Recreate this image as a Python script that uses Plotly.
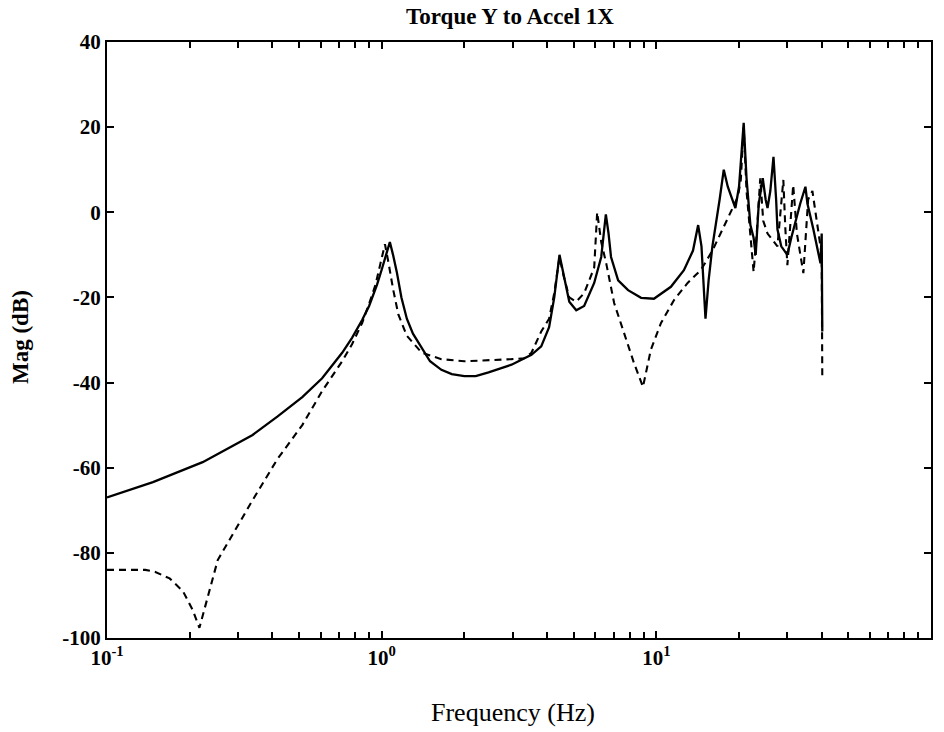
import plotly.graph_objects as go

# Solid curve (frequency Hz, magnitude dB)
solid_f = [0.1, 0.147, 0.223, 0.339, 0.417, 0.514, 0.607, 0.661, 0.718, 0.78, 0.849, 0.90,
           0.962, 1.0, 1.04, 1.071, 1.10, 1.135, 1.18, 1.235, 1.30, 1.40, 1.50, 1.65, 1.80,
           2.0, 2.2, 2.45, 2.97, 3.51, 3.81, 4.07, 4.25, 4.44, 4.63, 4.82, 5.11, 5.46, 5.94,
           6.30, 6.46, 6.55, 6.7, 6.84, 7.26, 7.89, 8.8, 9.8, 11.3, 12.6, 13.6, 14.2, 14.6,
           15.1, 15.5, 16.0, 17.0, 17.6, 18.2, 19.4, 20.0, 20.8, 21.3, 22.0, 22.6, 23.0, 23.6,
           24.4, 25.0, 25.4, 26.0, 26.7, 27.3, 27.6, 28.5, 30.0, 31.0, 33.4, 34.9, 35.5, 37.3,
           39.0, 39.6, 40.0, 40.2]
solid_db = [-67, -63.4, -58.7, -52.3, -48, -43.4, -39, -36, -33, -29.5, -25.3, -22,
            -17, -13.5, -10, -7, -10, -14, -20, -25, -28.5, -32, -35, -37, -38,
            -38.5, -38.5, -37.6, -35.8, -33.5, -31.5, -27, -20, -10, -16, -21, -23, -22, -16.6,
            -10.5, -4, -0.5, -5, -10.5, -16, -18.3, -20.1, -20.3, -17.5, -13.6, -9, -3, -8,
            -25, -16, -8, 3, 10, 6, 1, 6, 21, 8, -3, -6, -10, 2,
            8, 3, 1, 5, 13, 3, -4, -8, -10, -6, 2, 6, 2, -4,
            -10, -12, -5, -28]

# Dashed curve (frequency Hz, magnitude dB)
dash_f = [0.1, 0.124, 0.138, 0.15, 0.169, 0.189, 0.205, 0.217, 0.236, 0.253, 0.286, 0.339,
          0.417, 0.514, 0.607, 0.661, 0.718, 0.78, 0.849, 0.90, 0.95, 0.99, 1.028, 1.06, 1.10,
          1.15, 1.235, 1.40, 1.65, 2.0, 2.45, 2.97, 3.3, 3.51, 3.81, 4.07, 4.25, 4.44, 4.6,
          4.82, 5.11, 5.46, 5.94, 6.09, 6.3, 6.57, 7.02, 7.63, 8.29, 8.94, 9.55, 10.4, 11.6,
          13.0, 14.5, 14.9, 16.0, 17.6, 19.8, 20.3, 20.8, 21.3, 22.6, 23.2, 23.9, 24.5, 25.4,
          27.6, 28.5, 29.0, 29.5, 30.0, 31.5, 32.5, 34.3, 35.7, 37.0, 38.5, 40.0, 40.2]
dash_db = [-84, -84, -84, -84.5, -86, -89, -93.4, -97.6, -88.7, -81.7, -75.8, -67.6,
           -58, -50, -42, -38.5, -35, -31, -26, -21.5, -17, -12, -7.5, -12, -18,
           -24, -29, -33, -34.5, -35, -34.8, -34.5, -34.3, -33, -28, -25, -19, -10.5, -15,
           -20, -21, -19, -13, 0, -7, -12, -21.3, -28.4, -35.4, -41, -32.3, -26, -20.6,
           -16.6, -13.6, -12.4, -9, -3.4, 3.6, 7.6, 20, 5, -14, -5, 8, -2, -5,
           -8, 2, 7.6, -4, -12.4, 6.4, -5, -14.3, 3, 5, -3, -10, -39]

x_tick_vals = [0.1, 1, 10, 100]
x_tick_text = ["10<sup>-1</sup>", "10<sup>0</sup>", "10<sup>1</sup>", "10<sup>2</sup>"]
y_tick_vals = [40, 20, 0, -20, -40, -60, -80, -100]
y_tick_text = ["40", "20", "0", "-20", "-40", "-60", "-80", "-100"]
minor_vals = [m * 10.0 ** e for e in (-1, 0, 1) for m in range(2, 10)]

FONT = "Liberation Serif"

fig = go.Figure()
fig.add_trace(go.Scatter(x=solid_f, y=solid_db, mode="lines",
                         line=dict(color="black", width=2.3), showlegend=False))
fig.add_trace(go.Scatter(x=dash_f, y=dash_db, mode="lines",
                         line=dict(color="black", width=2.1, dash="7px,5px"), showlegend=False))

axis_common = dict(showline=True, linecolor="black", linewidth=2, mirror="ticks",
                   ticks="inside", tickcolor="black", showgrid=False, zeroline=False,
                   automargin=False,
                   tickfont=dict(family=FONT, size=21, color="black", weight="bold"))

fig.update_xaxes(type="log", range=[-1, 2], tickvals=x_tick_vals, ticktext=x_tick_text,
                 ticklen=7, tickwidth=1.5,
                 minor=dict(tickvals=minor_vals, ticks="inside", ticklen=6, tickcolor="black",
                            tickwidth=1.5, showgrid=False),
                 **axis_common)
fig.update_yaxes(range=[-100, 40], tickvals=y_tick_vals, ticktext=y_tick_text,
                 ticklen=7, tickwidth=1.5, **axis_common)

FW, FH = 944, 732
L, R, T, B = 107, 931, 42, 638
W, H = R - L, B - T

fig.update_layout(
    width=FW, height=FH,
    margin=dict(l=L, r=FW - R, t=T, b=FH - B, autoexpand=False),
    paper_bgcolor="white", plot_bgcolor="white",
    title=dict(text="Torque Y to Accel 1X", x=510 / FW, xref="container",
               xanchor="center", y=1 - 16 / FH, yref="container", yanchor="middle",
               font=dict(family=FONT, size=23, color="black", weight="bold")),
    annotations=[
        dict(text="Frequency (Hz)", xref="paper", yref="paper",
             x=(513 - L) / W, y=(B - 713) / H, xanchor="center",
             yanchor="middle", showarrow=False,
             font=dict(family=FONT, size=26, color="black")),
        dict(text="Mag (dB)", xref="paper", yref="paper",
             x=(20 - L) / W, y=(B - 337) / H, xanchor="center",
             yanchor="middle", textangle=-90, showarrow=False,
             font=dict(family=FONT, size=23, color="black", weight="bold")),
    ],
)

fig.write_html("out.html", config={"displayModeBar": False},
               post_script="document.body.style.margin='0';document.body.style.overflow='hidden';")
